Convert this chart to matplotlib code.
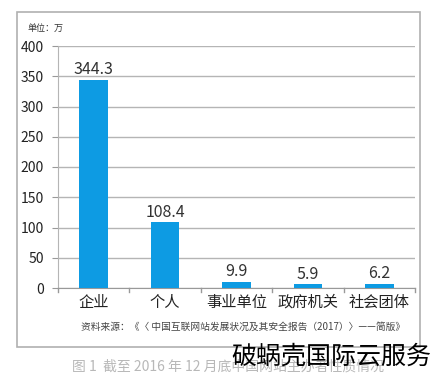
import matplotlib
matplotlib.use('Agg')
import matplotlib.pyplot as plt
from matplotlib.patches import Rectangle

plt.rcParams['font.family'] = ['Noto Sans CJK SC', 'DejaVu Sans']

# --- 数据 ---
categories = ['企业', '个人', '事业单位', '政府机关', '社会团体']
values = [344.3, 108.4, 9.9, 5.9, 6.2]
labels = ['344.3', '108.4', '9.9', '5.9', '6.2']
yticks = [0, 50, 100, 150, 200, 250, 300, 350, 400]

fig = plt.figure(figsize=(4.34, 3.8), dpi=100)
fig.patch.set_facecolor('white')

# 外框
fig.patches.append(Rectangle((17 / 434, 1 - 347 / 380), 403 / 434, 335 / 380,
                             transform=fig.transFigure, fill=False,
                             edgecolor='#b0b0b0', lw=1.2))

ax = fig.add_axes([58 / 434, 1 - 288 / 380, 357 / 434, 242 / 380])
x = range(len(categories))
ax.bar(x, values, width=0.4, color='#0d9be3', zorder=3)
for i, v in enumerate(values):
    ax.text(i, v + 3, labels[i], ha='center', va='bottom', fontsize=11.5, color='#333333')

ax.set_xlim(-0.5, len(categories) - 0.5)
ax.set_ylim(0, 400)
ax.set_yticks(yticks)
ax.set_yticklabels([str(t) for t in yticks], fontsize=10, color='#222222')
ax.set_xticks(list(x))
ax.set_xticklabels(categories, fontsize=11, color='#222222')
ax.tick_params(axis='x', length=0, pad=4)
ax.tick_params(axis='y', length=4, color='#999999', pad=6)
# 类别间刻度
for b in [-0.5, 0.5, 1.5, 2.5, 3.5, 4.5]:
    ax.plot([b, b], [0, -6], color='#999999', lw=1, clip_on=False, zorder=4)

ax.grid(axis='y', color='#b5b5b5', lw=1, zorder=0)
for s in ['top', 'right']:
    ax.spines[s].set_visible(False)
ax.spines['left'].set_color('#b5b5b5')
ax.spines['bottom'].set_color('#999999')

fig.text(27 / 434, 1 - 28 / 380, '单位：万', fontsize=6.5, color='#333333', va='center')
fig.text(405 / 434, 1 - 327 / 380, '资料来源：《〈 中国互联网站发展状况及其安全报告（2017）〉——简版》',
         fontsize=7, color='#444444', ha='right', va='center')
fig.text(72 / 434, 1 - 367 / 380, '图 1  截至 2016 年 12 月底中国网站主办者性质情况',
         fontsize=10, color='#b8b8b8', va='center')
fig.text(431 / 434, 1 - 357 / 380, '破蜗壳国际云服务', fontsize=18, color='black',
         ha='right', va='center')

fig.savefig('out.png', dpi=100)
